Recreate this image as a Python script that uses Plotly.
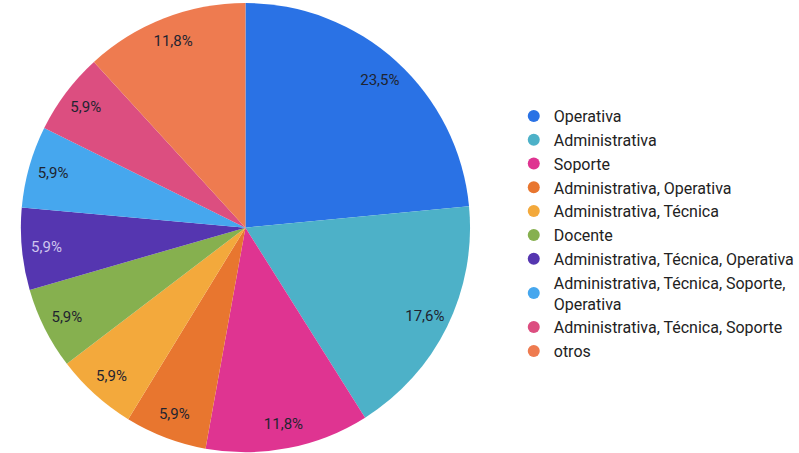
import plotly.graph_objects as go

categories = [
    "Operativa",
    "Administrativa",
    "Soporte",
    "Administrativa, Operativa",
    "Administrativa, Técnica",
    "Docente",
    "Administrativa, Técnica, Operativa",
    "Administrativa, Técnica, Soporte,<br>Operativa",
    "Administrativa, Técnica, Soporte",
    "otros",
]
values = [23.5, 17.6, 11.8, 5.9, 5.9, 5.9, 5.9, 5.9, 5.9, 11.8]
colors = ["#2a72e5", "#4db1c8", "#df3491", "#e8762f", "#f3a93c",
          "#86b04f", "#5536b0", "#46a7ee", "#dc4e80", "#ee7b50"]
label_colors = ["#1f2430"] * 6 + ["#cfc6ee"] + ["#1f2430"] * 3

FONT = "Roboto, Arial, sans-serif"
dom_x = [21 / 799, 473 / 799]
dom_y = [0.0, 0.995]

fig = go.Figure()

# Filled pie (no text)
fig.add_trace(go.Pie(
    labels=categories, values=values, sort=False, direction="clockwise",
    rotation=0, marker=dict(colors=colors, line=dict(width=0)),
    textinfo="none", showlegend=False, hoverinfo="label+percent",
    domain=dict(x=dom_x, y=dom_y),
))

# Transparent ring carrying the percentage labels near the rim
fig.add_trace(go.Pie(
    labels=categories, values=values, sort=False, direction="clockwise",
    rotation=0, hole=0.78,
    marker=dict(colors=["rgba(0,0,0,0)"] * len(values), line=dict(width=0)),
    texttemplate="%{percent:.1%}", textposition="inside",
    insidetextorientation="horizontal",
    insidetextfont=dict(family=FONT, size=15, color=label_colors),
    showlegend=False, hoverinfo="skip",
    domain=dict(x=dom_x, y=dom_y),
))

# Legend entries with round markers
for i, (cat, col) in enumerate(zip(categories, colors)):
    fig.add_trace(go.Scatter(
        x=[None], y=[None], mode="markers", name=cat,
        legendgroup=f"g{i}",
        marker=dict(color=col, size=15, symbol="circle"),
        showlegend=True,
    ))

fig.update_layout(
    width=799, height=453,
    margin=dict(l=0, r=0, t=0, b=0),
    paper_bgcolor="white", plot_bgcolor="white",
    separators=",.",
    font=dict(family=FONT, size=16, color="#222222"),
    xaxis=dict(visible=False), yaxis=dict(visible=False),
    legend=dict(
        x=517 / 799, xanchor="left", y=1 - 99 / 453, yanchor="top",
        font=dict(family=FONT, size=16, color="#222222"),
        tracegroupgap=6, traceorder="normal",
        itemsizing="constant", bgcolor="rgba(0,0,0,0)",
    ),
)

fig.write_html("out.html")
